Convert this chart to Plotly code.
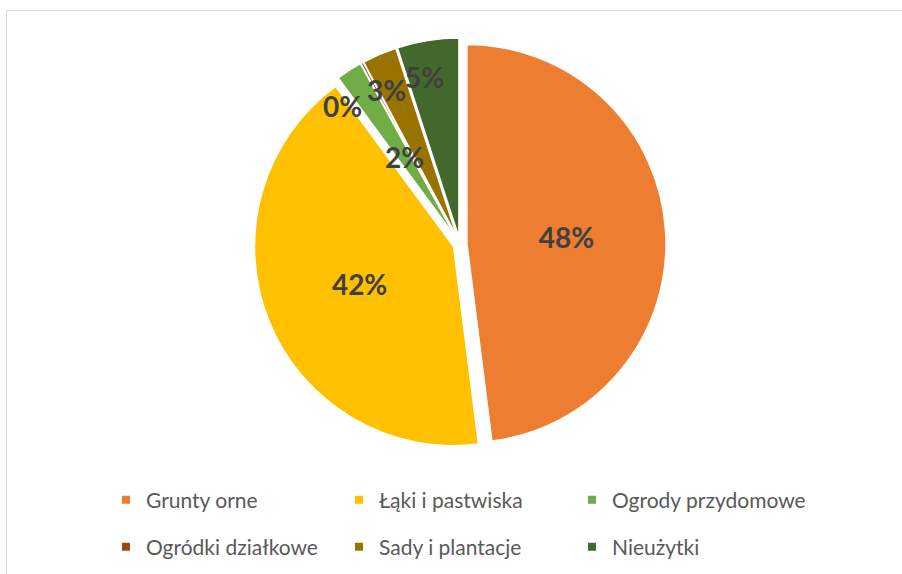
import math
import plotly.graph_objects as go

# Land use structure (share of total area, %)
categories = ["Grunty orne", "Łąki i pastwiska", "Ogrody przydomowe",
              "Ogródki działkowe", "Sady i plantacje", "Nieużytki"]
shares = [48.0, 41.9, 2.1, 0.2, 2.8, 5.0]
colors = ["#ED7D31", "#FFC000", "#70AD47", "#9E480E", "#997300", "#43682B"]

W, H = 902, 574
FONT = "Lato, 'Open Sans', sans-serif"
LABEL_SIZE = 28
PULL = 0.035

# Pie placement (pixels): centre and half-size of the square domain
CX, CY, HALF = 460, 244, 206
R = HALF / (1 + PULL)

# Slices too thin for an inside label get a label placed along their
# bisector instead: (radius as a fraction of R, angular nudge in degrees)
small_label_pos = {2: (0.52, 0.0), 3: (0.91, -12.0), 4: (0.86, -2.5), 5: (0.86, -3.0)}

total = sum(shares)
templates = ["" if i in small_label_pos else "%{percent:.0%}"
             for i in range(len(shares))]

fig = go.Figure()

fig.add_trace(go.Pie(
    labels=categories,
    values=shares,
    sort=False,
    direction="clockwise",
    rotation=0,
    pull=PULL,
    marker=dict(colors=colors, line=dict(color="white", width=1.5)),
    texttemplate=templates,
    textposition="inside",
    insidetextorientation="horizontal",
    textfont=dict(family=FONT, size=LABEL_SIZE, color="#404040", weight="bold"),
    domain=dict(x=[(CX - HALF) / W, (CX + HALF) / W],
                y=[1 - (CY + HALF) / H, 1 - (CY - HALF) / H]),
    showlegend=False,
    hoverinfo="label+percent",
))

# Percentage labels of the thin slices, positioned from the slice angles
annotations = []
start = 0.0
for i, v in enumerate(shares):
    span = v / total * 360.0
    if i in small_label_pos:
        frac, nudge = small_label_pos[i]
        theta = math.radians(start + span / 2 + nudge)
        px = CX + frac * R * math.sin(theta)
        py = CY - frac * R * math.cos(theta)
        annotations.append(dict(
            x=px / W, y=1 - py / H, xref="paper", yref="paper",
            text=f"{round(v / total * 100)}%", showarrow=False,
            xanchor="center", yanchor="middle",
            font=dict(family=FONT, size=LABEL_SIZE, color="#404040", weight="bold"),
        ))
    start += span

# Legend entries, split into two rows of three
for i, (name, col) in enumerate(zip(categories, colors)):
    fig.add_trace(go.Scatter(
        x=[None], y=[None], mode="markers", name=name,
        marker=dict(symbol="square", size=8, color=col),
        legend="legend" if i < 3 else "legend2",
        hoverinfo="skip",
    ))

legend_style = dict(
    orientation="h",
    xanchor="left", yanchor="middle",
    entrywidth=188, entrywidthmode="pixels",
    font=dict(family=FONT, size=21, color="#595959"),
    bgcolor="rgba(0,0,0,0)",
    itemclick=False, itemdoubleclick=False,
)

fig.update_layout(
    width=W, height=H,
    margin=dict(l=0, r=0, t=0, b=0),
    paper_bgcolor="white",
    plot_bgcolor="white",
    xaxis=dict(visible=False),
    yaxis=dict(visible=False),
    uniformtext=dict(minsize=LABEL_SIZE, mode="show"),
    legend=dict(x=106 / W, y=1 - 500 / H, **legend_style),
    legend2=dict(x=106 / W, y=1 - 547 / H, **legend_style),
    annotations=annotations,
    shapes=[dict(
        type="rect", xref="paper", yref="paper",
        x0=6.5 / W, x1=1.02, y0=-0.02, y1=1 - 10.5 / H,
        line=dict(color="#D9D9D9", width=1), layer="below",
    )],
)

fig.write_html("out.html")
